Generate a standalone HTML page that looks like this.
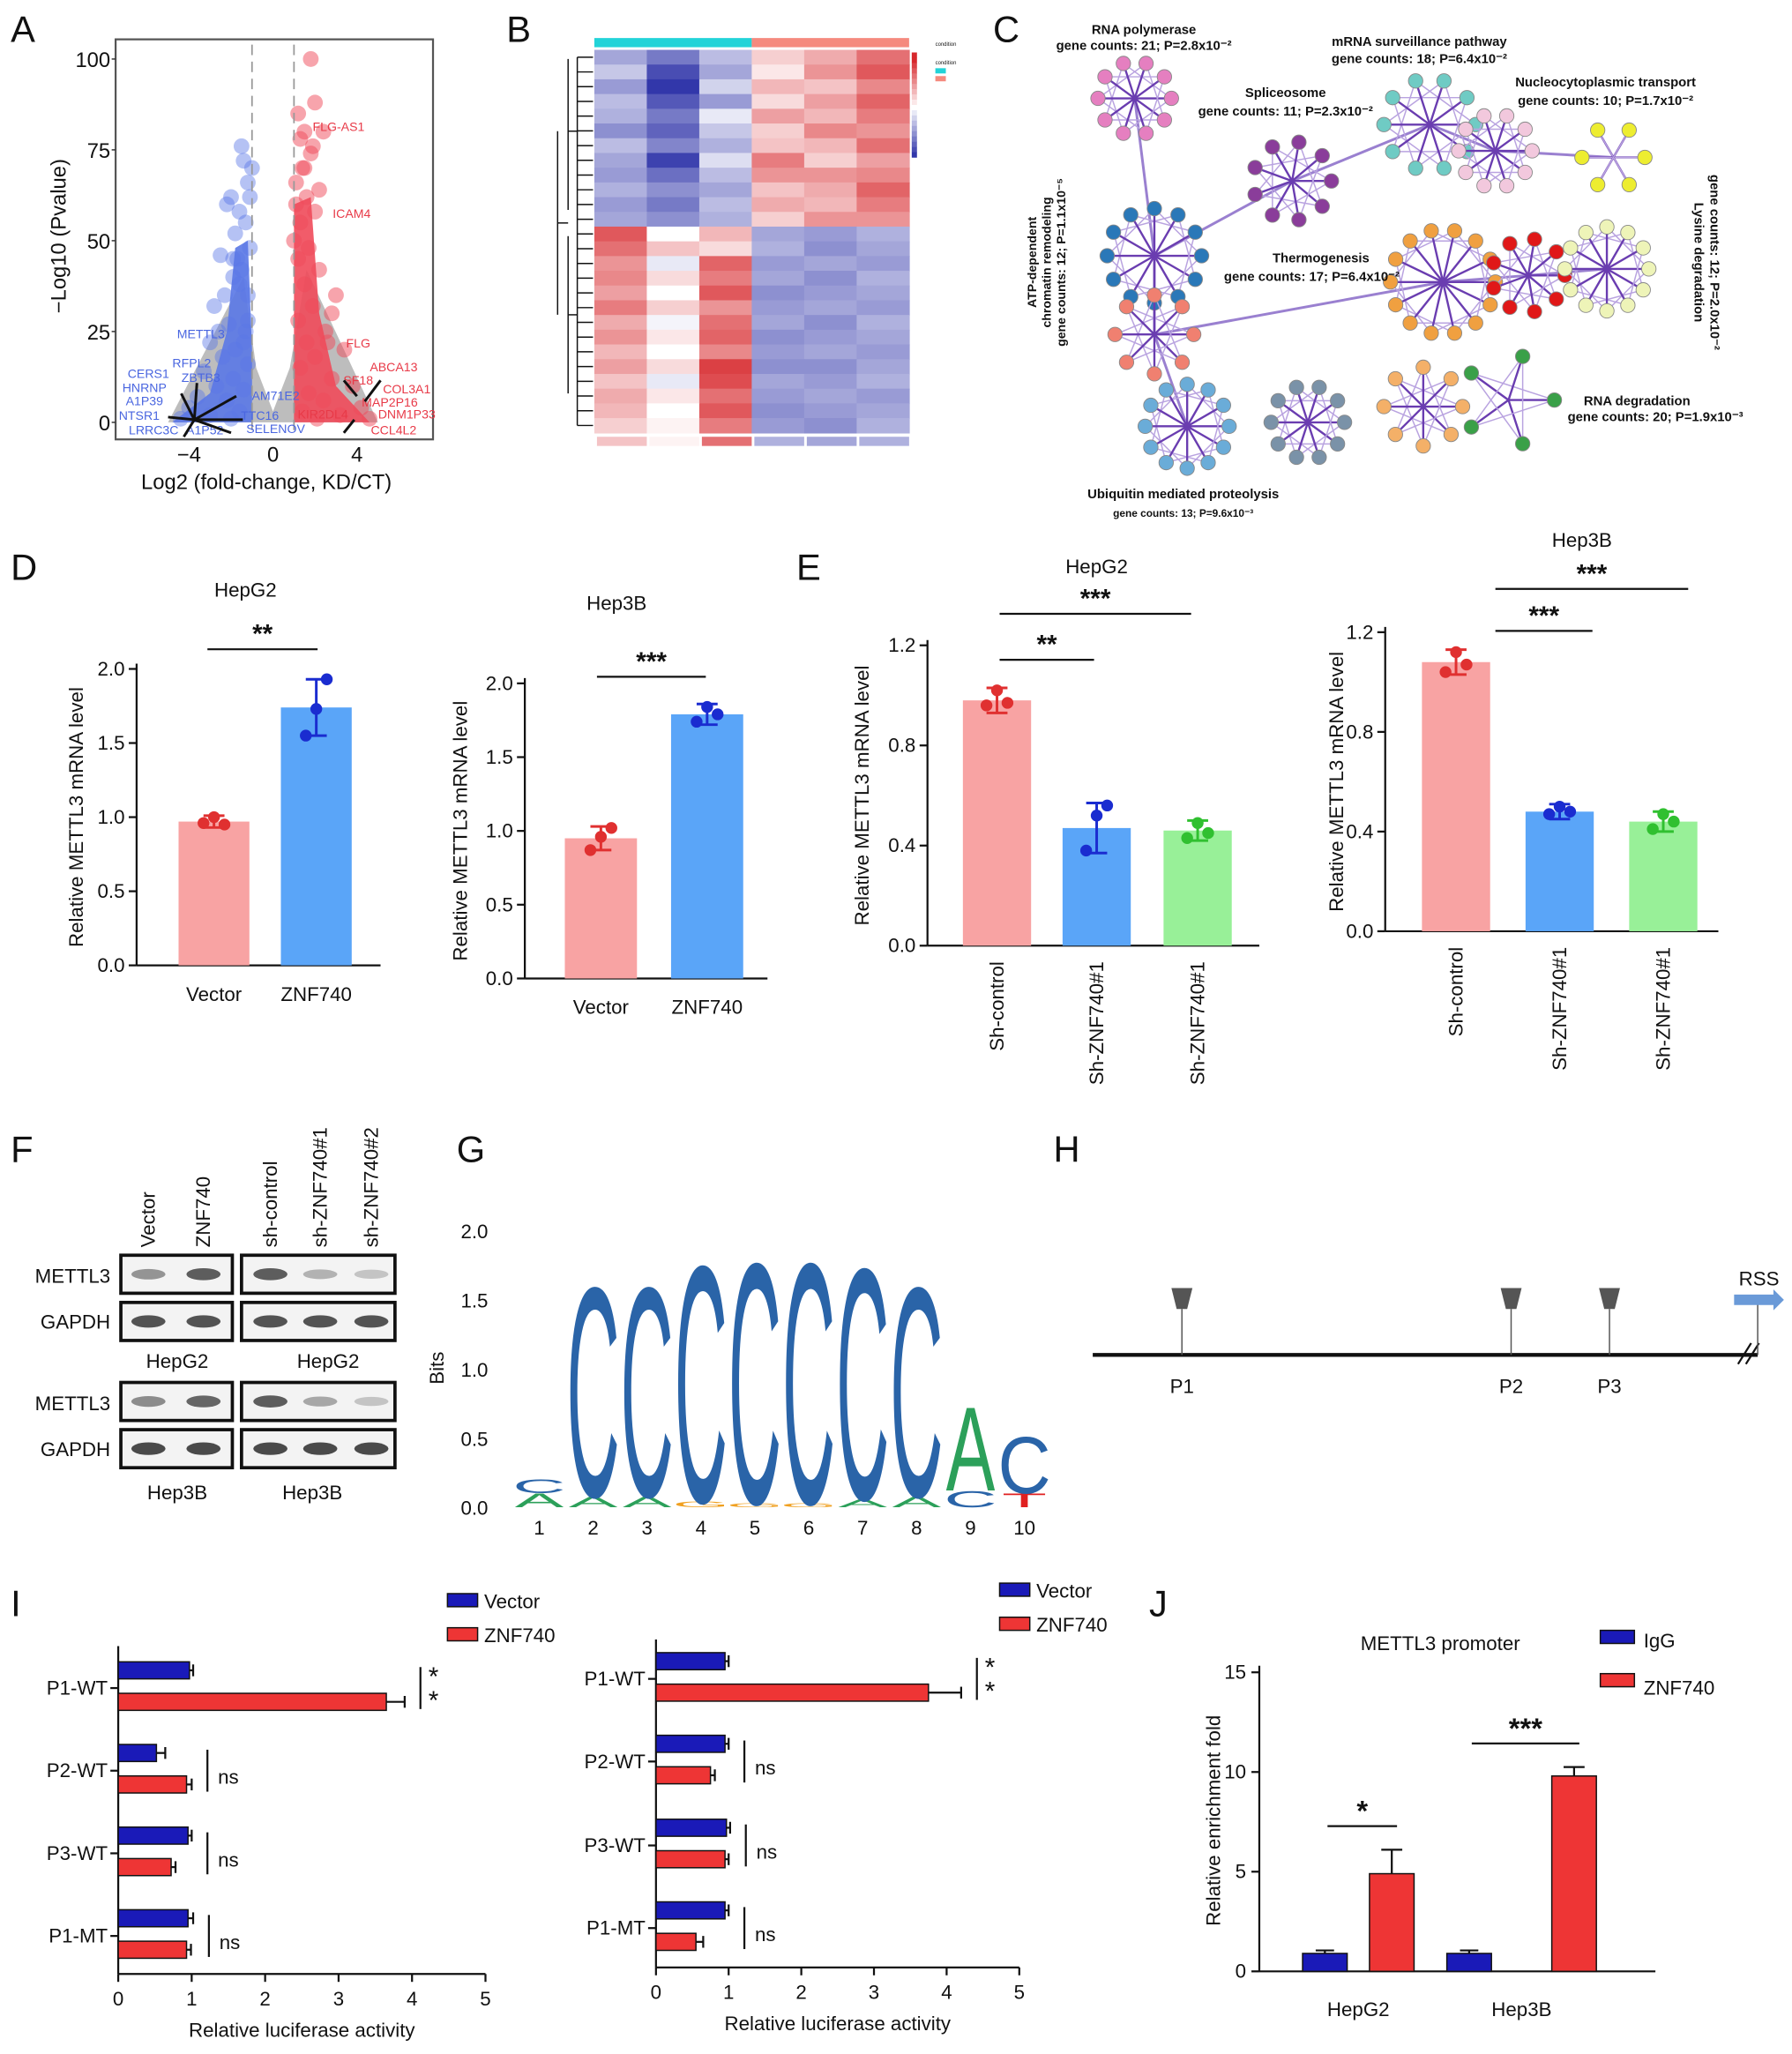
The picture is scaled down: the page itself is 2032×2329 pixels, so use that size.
<!DOCTYPE html>
<html><head><meta charset="utf-8"><style>
html,body{margin:0;padding:0;background:#fff}
svg{display:block;font-family:"Liberation Sans",Arial,sans-serif}
</style></head><body>
<svg id="fig" xmlns="http://www.w3.org/2000/svg" width="2032" height="2329" viewBox="0 0 1366 1566">
<rect width="1366" height="1566" fill="#fff"/>
<g font-size="28" fill="#111">
<text x="8" y="32">A</text><text x="386" y="32">B</text><text x="757" y="32">C</text>
<text x="8" y="442">D</text><text x="607" y="442">E</text>
<text x="8" y="886">F</text><text x="348" y="886">G</text><text x="803" y="886">H</text>
<text x="8" y="1232">I</text><text x="876" y="1232">J</text>
</g>
</svg>
<script>
const NS='http://www.w3.org/2000/svg';
const svg=document.getElementById('fig');
function mk(tag,attrs,parent){const e=document.createElementNS(NS,tag);for(const k in attrs)e.setAttribute(k,attrs[k]);(parent||svg).appendChild(e);return e;}
function tx(x,y,s,size,opt){opt=opt||{};const e=mk('text',{x:x,y:y,'font-size':size,'text-anchor':opt.anchor||'middle',fill:opt.fill||'#111','font-weight':opt.bold?'bold':'normal'},opt.parent);if(opt.rot!==undefined)e.setAttribute('transform','rotate('+opt.rot+' '+x+' '+y+')');e.textContent=s;return e;}
function ln(x1,y1,x2,y2,st,w,parent){return mk('line',{x1:x1,y1:y1,x2:x2,y2:y2,stroke:st||'#111','stroke-width':w||1.5},parent);}

/* ===== A volcano ===== */
const blueX=[-1.5,-1.4,-2.0,-1.2,-1.6,-2.2,-1.3,-1.8,-1.1,-2.5,-1.5,-1.9,-1.2,-2.8,-1.6,-2.1,-1.3,-3.0,-1.8,-2.4,-1.2,-3.3,-1.9,-2.7,-1.4,-3.6,-2.2,-4.0,-1.6,-3.0,-4.4,-2.0,-1.1,-1.0,-1.7,-2.3,-1.4,-2.6,-1.9,-1.2];
const blueY=[76,72,62,66,58,60,55,52,48,46,42,45,35,32,38,27,25,22,20,18,16,14,12,10,9,7,6,4,3,2,1,1,62,70,45,35,22,25,40,28];
const redX=[1.8,1.2,1.5,2.0,1.3,1.8,2.4,1.1,1.6,2.0,1.3,2.8,1.7,1.2,2.2,1.5,3.0,1.9,1.2,2.5,1.6,3.4,2.0,1.3,2.8,3.8,1.7,2.4,4.2,1.4,3.2,4.6,2.1,1.1,1.4,2.2,1.9,1.0,2.6,1.5];
const redY=[100,85,80,88,78,74,80,66,62,58,55,30,48,45,42,38,35,32,28,25,22,20,18,15,12,10,8,6,4,3,2,1,1,60,70,64,76,50,22,70];
const gA=mk('g',{});


const vx=v=>208+v*16, vy=v=>322-v*2.77;
mk('rect',{x:88,y:30,width:242,height:305,fill:'#fff',stroke:'#555','stroke-width':1.5},gA);
mk('path',{d:'M'+vx(-5)+' '+vy(0)+' L'+vx(-1.4)+' '+vy(40)+' L'+vx(-0.8)+' '+vy(15)+' L'+vx(0)+' '+vy(3)+' L'+vx(0.8)+' '+vy(15)+' L'+vx(1.6)+' '+vy(42)+' L'+vx(5)+' '+vy(0)+' Z',fill:'#bdbdbd'},gA);
mk('path',{d:'M'+vx(-4.8)+' '+vy(0)+' L'+vx(-3)+' '+vy(8)+' L'+vx(-2.2)+' '+vy(25)+' L'+vx(-1.8)+' '+vy(48)+' L'+vx(-1.2)+' '+vy(50)+' L'+vx(-1.0)+' '+vy(20)+' L'+vx(-1.0)+' '+vy(0)+' Z',fill:'#5a78e6',opacity:0.9},gA);
mk('path',{d:'M'+vx(1.0)+' '+vy(0)+' L'+vx(1.0)+' '+vy(60)+' L'+vx(1.8)+' '+vy(62)+' L'+vx(2.2)+' '+vy(30)+' L'+vx(3)+' '+vy(10)+' L'+vx(4.6)+' '+vy(0)+' Z',fill:'#f04a5a',opacity:0.9},gA);
for(let i=0;i<blueX.length;i++){const c=mk('circle',{cx:vx(blueX[i]),cy:vy(blueY[i]),r:6,fill:'#5a78e6','fill-opacity':0.45},gA);

}
for(let i=0;i<redX.length;i++){const c=mk('circle',{cx:vx(redX[i]),cy:vy(redY[i]),r:6,fill:'#f04a5a','fill-opacity':0.5},gA);

}
ln(vx(-1),34,vx(-1),330,'#999',1.2,gA).setAttribute('stroke-dasharray','8 5');
ln(vx(1),34,vx(1),330,'#999',1.2,gA).setAttribute('stroke-dasharray','8 5');
[0,25,50,75,100].forEach(t=>{ln(85,vy(t),88,vy(t),'#333',1,gA);tx(84,vy(t)+6,String(t),16,{anchor:'end',parent:gA});});
[-4,0,4].forEach(t=>{tx(vx(t),352,t<0?'\u2212'+(-t):String(t),16,{parent:gA});});
tx(203,373,'Log2 (fold-change, KD/CT)',16,{parent:gA});
tx(50,180,'\u2212Log10 (Pvalue)',16,{rot:-90,parent:gA});
[['METTL3',153,258],['RFPL2',146,280],['CERS1',113,288],['ZBTB3',153,291],['HNRNP',110,299],['A1P39',110,309],['NTSR1',106,320],['LRRC3C',117,331],['A1P52',156,331],['SELENOV',210,330],['TTC16',198,320],['AM71E2',210,305]].forEach(a=>tx(a[1],a[2],a[0],9.5,{fill:'#4a66e0',parent:gA}));
[['FLG-AS1',258,100],['ICAM4',268,166],['FLG',273,265],['ABCA13',300,283],['SF18',273,293],['COL3A1',310,300],['MAP2P16',297,310],['DNM1P33',310,319],['KIR2DL4',246,319],['CCL4L2',300,331]].forEach(a=>tx(a[1],a[2],a[0],9.5,{fill:'#e83a48',parent:gA}));
[[148,320,128,318],[148,320,138,300],[148,320,150,292],[148,320,180,302],[148,320,185,320],[148,320,176,330],[148,320,140,333],[262,290,272,302],[290,290,278,306],[270,320,262,330]].forEach(s=>ln(s[0],s[1],s[2],s[3],'#111',2,gA));

/* ===== B heatmap ===== */
const heatValues=[
[-0.8,-1.2,-0.6,0.4,0.7,1.2],[-0.5,-1.6,-0.8,0.2,0.9,1.4],[-0.9,-1.8,-0.4,0.6,0.5,1.0],[-0.6,-1.5,-0.9,0.3,0.8,1.3],
[-0.7,-1.2,-0.2,0.8,0.6,1.1],[-1.0,-1.4,-0.5,0.4,1.0,0.9],[-0.6,-1.1,-0.7,0.5,0.6,1.2],[-0.8,-1.7,-0.3,1.1,0.4,0.8],
[-0.9,-1.3,-0.6,0.9,0.9,1.0],[-0.7,-1.0,-0.8,0.5,0.7,1.3],[-0.9,-1.2,-0.6,0.7,0.6,1.1],[-0.8,-1.0,-0.7,0.4,0.9,0.9],
[1.4,0.0,0.6,-0.8,-0.9,-0.7],[1.2,0.5,0.3,-0.7,-1.0,-0.8],[0.9,-0.2,1.3,-0.9,-0.8,-0.9],[1.0,0.3,1.1,-0.8,-1.0,-0.7],
[0.8,0.0,1.4,-1.0,-0.9,-0.8],[1.1,0.4,0.9,-0.9,-0.8,-0.9],[0.7,-0.1,1.2,-0.8,-1.0,-0.7],[0.9,0.2,1.3,-1.0,-0.9,-0.8],
[0.6,0.0,1.0,-0.9,-0.8,-0.9],[0.8,0.3,1.6,-1.0,-1.0,-0.8],[0.5,-0.2,1.5,-0.8,-0.9,-0.7],[0.7,0.2,1.2,-0.9,-0.8,-0.9],
[0.6,0.0,1.4,-1.0,-0.9,-0.8],[0.4,0.1,1.1,-0.9,-1.0,-0.7]];
const heatSummary=[0.5,0.1,1.2,-0.7,-0.8,-0.7];
const gB=mk('g',{});


function heatColor(v){const t=Math.max(-2,Math.min(2,v))/1.8;const k=Math.min(1,Math.abs(t));let r,g,b;if(t<0){r=255-(255-50)*k;g=255-(255-55)*k;b=255-(255-170)*k;}else{r=255-(255-215)*k;g=255-(255-40)*k;b=255-(255-45)*k;}return 'rgb('+Math.round(r)+','+Math.round(g)+','+Math.round(b)+')';}
const hx0=453,cw=40,hy0=38,rh=292/heatValues.length;
mk('rect',{x:hx0,y:29,width:cw*3,height:7,fill:'#22d3d8'},gB);
mk('rect',{x:hx0+cw*3,y:29,width:cw*3,height:7,fill:'#f58a7e'},gB);
heatValues.forEach((row,i)=>row.forEach((v,j)=>{const c=mk('rect',{x:hx0+j*cw,y:hy0+i*rh,width:cw+0.5,height:rh+0.5,fill:heatColor(v)},gB);

}));
heatSummary.forEach((v,j)=>{mk('rect',{x:hx0+j*cw+2,y:333,width:cw-2,height:7,fill:heatColor(v)},gB);});
for(let i=0;i<heatValues.length;i++){const y=hy0+i*rh+rh/2;ln(440,y,452,y,'#111',1,gB);}
ln(440,hy0+rh/2,440,hy0+292-rh/2,'#111',1,gB);ln(433,45,433,160,'#111',1,gB);ln(433,180,433,300,'#111',1,gB);
ln(433,100,440,100,'#111',1,gB);ln(433,240,440,240,'#111',1,gB);ln(425,100,425,240,'#111',1,gB);ln(425,170,433,170,'#111',1,gB);
for(let k=0;k<20;k++){mk('rect',{x:695,y:40+k*4,width:4,height:4.2,fill:heatColor(2-k*0.2)},gB);}
mk('rect',{x:713,y:52,width:8,height:4,fill:'#22d3d8'},gB);mk('rect',{x:713,y:58,width:8,height:4,fill:'#f58a7e'},gB);
tx(713,35,'condition',4,{anchor:'start',parent:gB});tx(713,49,'condition',4,{anchor:'start',parent:gB});

/* ===== C network ===== */
const gC=mk('g',{});


const clusters=[
{cx:865,cy:75,r:28,n:10,col:'#e57fc0'},{cx:985,cy:138,r:30,n:9,col:'#8a3d9a'},{cx:1090,cy:95,r:35,n:10,col:'#6fcbc4'},
{cx:1140,cy:115,r:28,n:10,col:'#f2c8dd'},{cx:1230,cy:120,r:24,n:6,col:'#eded30'},{cx:880,cy:195,r:36,n:12,col:'#2a78b8'},
{cx:880,cy:255,r:30,n:8,col:'#f08070'},{cx:1100,cy:215,r:40,n:14,col:'#f0a040'},{cx:1165,cy:210,r:28,n:9,col:'#e01818'},
{cx:1225,cy:205,r:32,n:12,col:'#eef4b8'},{cx:905,cy:325,r:32,n:12,col:'#6aacd8'},{cx:997,cy:322,r:28,n:10,col:'#7a92a8'},
{cx:1085,cy:310,r:30,n:8,col:'#f4b068'},{cx:1150,cy:305,r:35,n:5,col:'#3aa048'}];
const bridgeLinks=[[0,5],[1,2],[2,3],[3,4],[5,6],[6,7],[7,8],[8,9],[6,10],[1,5]];
bridgeLinks.forEach(p=>{const a=clusters[p[0]],b=clusters[p[1]];ln(a.cx,a.cy,b.cx,b.cy,'#9a80d0',2,gC);});
clusters.forEach(c=>{const pts=[];for(let k=0;k<c.n;k++){const ang=k/c.n*Math.PI*2;pts.push([c.cx+Math.cos(ang)*c.r,c.cy+Math.sin(ang)*c.r]);}
pts.forEach((p,k)=>{ln(c.cx,c.cy,p[0],p[1],'#6a3db0',1.6,gC);const q=pts[(k+3)%c.n];ln(p[0],p[1],q[0],q[1],'#b9a3e0',1,gC);});
pts.forEach(p=>{const n=mk('circle',{cx:p[0],cy:p[1],r:5.5,fill:c.col,stroke:'#888','stroke-width':0.6},gC);

});});
[['RNA polymerase',872,26],['gene counts: 21; P=2.8x10\u207B\u00B2',872,38],['mRNA surveillance pathway',1082,35],['gene counts: 18; P=6.4x10\u207B\u00B2',1082,48],
['Spliceosome',980,74],['gene counts: 11; P=2.3x10\u207B\u00B2',980,88],['Nucleocytoplasmic transport',1224,66],['gene counts: 10; P=1.7x10\u207B\u00B2',1224,80],
['Thermogenesis',1007,200],['gene counts: 17; P=6.4x10\u207B\u00B2',1000,214],['RNA degradation',1248,309],['gene counts: 20; P=1.9x10\u207B\u00B3',1262,321],
['Ubiquitin mediated proteolysis',902,380]].forEach(a=>tx(a[1],a[2],a[0],10,{bold:true,parent:gC}));
tx(902,394,'gene counts: 13; P=9.6x10\u207B\u00B3',8,{bold:true,parent:gC});
tx(790,200,'ATP-dependent',9.5,{bold:true,rot:-90,parent:gC});tx(801,200,'chromatin remodeling',9.5,{bold:true,rot:-90,parent:gC});tx(812,200,'gene counts: 12; P=1.1x10\u207B\u2075',9.5,{bold:true,rot:-90,parent:gC});
tx(1292,200,'Lysine degradation',10,{bold:true,rot:90,parent:gC});tx(1304,200,'gene counts: 12; P=2.0x10\u207B\u00B2',10,{bold:true,rot:90,parent:gC});

/* ===== bar chart helper (vertical) ===== */
function vbar(cfg,names,vals,reps,errs,cols,dots){
const g=mk('g',{});


const y=v=>cfg.y0-(v/cfg.max)*(cfg.y0-cfg.ytop);
ln(cfg.x0,cfg.ytop-4,cfg.x0,cfg.y0,'#111',1.5,g);ln(cfg.x0,cfg.y0,cfg.xend,cfg.y0,'#111',1.5,g);
cfg.ticks.forEach(t=>{ln(cfg.x0-6,y(t),cfg.x0,y(t),'#111',1.5,g);tx(cfg.x0-9,y(t)+5,t.toFixed(1),15,{anchor:'end',parent:g});});
vals.forEach((v,i)=>{const cx=cfg.xs[i];const b=mk('rect',{x:cx-cfg.bw/2,y:y(v),width:cfg.bw,height:cfg.y0-y(v),fill:cols[i]},g);


ln(cx,y(v-errs[i]),cx,y(v+errs[i]),dots[i],2,g);ln(cx-8,y(v+errs[i]),cx+8,y(v+errs[i]),dots[i],2,g);ln(cx-8,y(v-errs[i]),cx+8,y(v-errs[i]),dots[i],2,g);
reps[i].forEach((r,k)=>{mk('circle',{cx:cx+(k-1)*8,cy:y(r),r:4.5,fill:dots[i]},g);});
if(cfg.rotLabels)tx(cx+5,cfg.y0+12,names[i],15,{anchor:'end',rot:-90,parent:g});else tx(cx,cfg.y0+27,names[i],15,{parent:g});});
tx(cfg.ylx,(cfg.y0+cfg.ytop)/2,'Relative METTL3 mRNA level',15,{rot:-90,parent:g});
tx(cfg.tx,cfg.ty,cfg.title,15,{parent:g});
cfg.sig.forEach(s=>{ln(s[0],s[2],s[1],s[2],'#111',1.5,g);tx((s[0]+s[1])/2,s[2]-5,s[3],20,{bold:true,parent:g});});
return g;}

const dNames=['Vector','ZNF740'];
const d1Vals=[0.97,1.74],d1Err=[0.04,0.19],d1Reps=[[0.96,1.0,0.95],[1.55,1.73,1.93]];
const d2Vals=[0.95,1.79],d2Err=[0.08,0.07],d2Reps=[[0.87,0.96,1.02],[1.74,1.84,1.79]];
vbar({name:'chart-d-hepg2',x0:104,xend:290,y0:736,ytop:510,max:2.0,ticks:[0,0.5,1.0,1.5,2.0],xs:[163,241],bw:54,ylx:63,tx:187,ty:455,title:'HepG2',sig:[[158,242,495,'**']]},dNames,d1Vals,d1Reps,d1Err,['#f8a3a3','#5aa5f8'],['#e03030','#1a2cd0']);
vbar({name:'chart-d-hep3b',x0:400,xend:585,y0:746,ytop:521,max:2.0,ticks:[0,0.5,1.0,1.5,2.0],xs:[458,539],bw:55,ylx:356,tx:470,ty:465,title:'Hep3B',sig:[[455,538,516,'***']]},dNames,d2Vals,d2Reps,d2Err,['#f8a3a3','#5aa5f8'],['#e03030','#1a2cd0']);

const eNames=['Sh-control','Sh-ZNF740#1','Sh-ZNF740#1'];
const e1Vals=[0.98,0.47,0.46],e1Err=[0.05,0.10,0.04],e1Reps=[[0.96,1.02,0.97],[0.38,0.52,0.56],[0.43,0.49,0.45]];
const e2Vals=[1.08,0.48,0.44],e2Err=[0.05,0.03,0.04],e2Reps=[[1.04,1.12,1.07],[0.47,0.50,0.48],[0.41,0.47,0.44]];
vbar({name:'chart-e-hepg2',x0:707,xend:960,y0:721,ytop:492,max:1.2,ticks:[0,0.4,0.8,1.2],xs:[760,836,913],bw:52,rotLabels:true,ylx:662,tx:836,ty:437,title:'HepG2',sig:[[762,908,468,'***'],[762,834,503,'**']]},eNames,e1Vals,e1Reps,e1Err,['#f8a3a3','#5aa5f8','#98f098'],['#e03030','#1a2cd0','#30c030']);
vbar({name:'chart-e-hep3b',x0:1056,xend:1310,y0:710,ytop:482,max:1.2,ticks:[0,0.4,0.8,1.2],xs:[1110,1189,1268],bw:52,rotLabels:true,ylx:1024,tx:1206,ty:417,title:'Hep3B',sig:[[1140,1287,449,'***'],[1140,1214,481,'***']]},eNames,e2Vals,e2Reps,e2Err,['#f8a3a3','#5aa5f8','#98f098'],['#e03030','#1a2cd0','#30c030']);

/* ===== F western blot ===== */
const gF=mk('g',{});


const laneX=[113,155,206,244,283];
const bandIntensity={m1:[0.5,0.8,0.8,0.35,0.25],g1:[0.85,0.85,0.85,0.85,0.85],m2:[0.55,0.75,0.8,0.4,0.25],g2:[0.9,0.9,0.9,0.9,0.9]};
[['m1',957],['g1',993],['m2',1054],['g2',1090]].forEach(r=>{
mk('rect',{x:92,y:r[1],width:85,height:29,fill:'#f3f3f3',stroke:'#111','stroke-width':2.5},gF);
mk('rect',{x:184,y:r[1],width:117,height:29,fill:'#f3f3f3',stroke:'#111','stroke-width':2.5},gF);
bandIntensity[r[0]].forEach((v,i)=>{mk('ellipse',{cx:laneX[i],cy:r[1]+14.5,rx:13,ry:3+v*2,fill:'#222','fill-opacity':v*0.9},gF);});});
tx(84,978,'METTL3',15,{anchor:'end',parent:gF});tx(84,1013,'GAPDH',15,{anchor:'end',parent:gF});
tx(84,1075,'METTL3',15,{anchor:'end',parent:gF});tx(84,1110,'GAPDH',15,{anchor:'end',parent:gF});
tx(135,1043,'HepG2',15,{parent:gF});tx(250,1043,'HepG2',15,{parent:gF});tx(135,1143,'Hep3B',15,{parent:gF});tx(238,1143,'Hep3B',15,{parent:gF});
['Vector','ZNF740','sh-control','sh-ZNF740#1','sh-ZNF740#2'].forEach((s,i)=>tx(laneX[i]+5,951,s,15,{anchor:'start',rot:-90,parent:gF}));

/* ===== G sequence logo ===== */
const logoPos=[1,2,3,4,5,6,7,8,9,10];
const logoMain=['C','C','C','C','C','C','C','C','A','C'];
const logoMainBits=[0.1,1.55,1.55,1.75,1.78,1.78,1.71,1.55,0.62,0.42];
const logoSub=['A','A','A','G','G','G','A','A','C','T'];
const logoSubBits=[0.1,0.08,0.08,0.04,0.03,0.03,0.06,0.08,0.12,0.1];
const gG=mk('g',{});


const ly=v=>1149-v*105.5, lx=p=>411+(p-1)*41.1;
[0,0.5,1.0,1.5,2.0].forEach(t=>tx(372,ly(t)+6,t.toFixed(1),15,{anchor:'end',parent:gG}));
tx(338,1043,'Bits',15,{rot:-90,parent:gG});
const letterCol={C:'#2a64a8',A:'#2ca05a',G:'#f0a020',T:'#e02020'};
function letter(ch,x,base,h,parent){const t=mk('text',{x:0,y:0,'font-size':100,fill:letterCol[ch],'text-anchor':'middle'},parent);t.textContent=ch;t.setAttribute('transform','translate('+x+' '+base+') scale(0.56 '+(h/71.6).toFixed(4)+')');return t;}
logoPos.forEach((p,i)=>{const x=lx(p);const hs=logoSubBits[i]*105.5,hm=logoMainBits[i]*105.5;
letter(logoSub[i],x,1149,hs,gG);
const L=letter(logoMain[i],x,1149-hs,hm,gG);


tx(x,1170,String(p),15,{parent:gG});});

/* ===== H promoter schematic ===== */
const gH=mk('g',{});


ln(833,1033,1340,1033,'#111',3,gH);
ln(1325,1040,1335,1024,'#111',1.5,gH);ln(1331,1040,1341,1024,'#111',1.5,gH);
const siteX=[901,1152,1227],siteLbl=['P1','P2','P3'];
siteX.forEach((x,i)=>{ln(x,998,x,1033,'#555',1,gH);const m=mk('path',{d:'M'+(x-8)+' 982 L'+(x+8)+' 982 L'+(x+4)+' 998 L'+(x-4)+' 998 Z',fill:'#555'},gH);


tx(x,1062,siteLbl[i],15,{parent:gH});});
ln(1340,992,1340,1033,'#555',1,gH);mk('path',{d:'M1322 987 L1352 987 L1352 983 L1360 991 L1352 999 L1352 995 L1322 995 Z',fill:'#6a9ad8'},gH);
tx(1341,980,'RSS',15,{parent:gH});

/* ===== I horizontal bar charts ===== */
const iCats=['P1-WT','P2-WT','P3-WT','P1-MT'];
const i1Vec=[0.97,0.52,0.95,0.95],i1Znf=[3.65,0.93,0.72,0.93],i1VecErr=[0.05,0.12,0.05,0.07],i1ZnfErr=[0.25,0.07,0.06,0.06];
const i2Vec=[0.95,0.95,0.97,0.95],i2Znf=[3.75,0.75,0.95,0.55],i2VecErr=[0.05,0.05,0.05,0.05],i2ZnfErr=[0.45,0.06,0.05,0.1];
const iSig=['**','ns','ns','ns'];
function hbar(cfg,vec,znf,ve,ze){
const g=mk('g',{});


const x=v=>cfg.x0+v*cfg.unit;
ln(cfg.x0,cfg.ytop,cfg.x0,cfg.y0,'#111',1.5,g);ln(cfg.x0,cfg.y0,x(5),cfg.y0,'#111',1.5,g);
[0,1,2,3,4,5].forEach(t=>{ln(x(t),cfg.y0,x(t),cfg.y0+6,'#111',1.5,g);tx(x(t),cfg.y0+24,String(t),15,{parent:g});});
tx(x(2.5),cfg.y0+48,'Relative luciferase activity',15,{parent:g});
iCats.forEach((c,i)=>{const cy=cfg.cy[i];ln(cfg.x0-6,cy,cfg.x0,cy,'#111',1.5,g);tx(cfg.x0-8,cy+5,c,15,{anchor:'end',parent:g});
const b1=mk('rect',{x:cfg.x0,y:cy-20,width:vec[i]*cfg.unit,height:13,fill:'#1a1ab8',stroke:'#111','stroke-width':1},g);


const b2=mk('rect',{x:cfg.x0,y:cy+4,width:znf[i]*cfg.unit,height:13,fill:'#ee3535',stroke:'#111','stroke-width':1},g);


ln(x(vec[i]),cy-13.5,x(vec[i]+ve[i]),cy-13.5,'#111',1.5,g);ln(x(vec[i]+ve[i]),cy-18,x(vec[i]+ve[i]),cy-9,'#111',1.5,g);
ln(x(znf[i]),cy+10.5,x(znf[i]+ze[i]),cy+10.5,'#111',1.5,g);ln(x(znf[i]+ze[i]),cy+6,x(znf[i]+ze[i]),cy+15,'#111',1.5,g);
const sx=x(Math.max(vec[i]+ve[i],znf[i]+ze[i]))+12;ln(sx,cy-16,sx,cy+16,'#111',1.5,g);
if(iSig[i]==='ns')tx(sx+8,cy+10,'ns',15,{anchor:'start',parent:g});else{tx(sx+10,cy-2,'*',20,{parent:g});tx(sx+10,cy+16,'*',20,{parent:g});}});
mk('rect',{x:cfg.lx,y:cfg.ly-13,width:23,height:10,fill:'#1a1ab8',stroke:'#111'},g);tx(cfg.lx+28,cfg.ly-2,'Vector',15,{anchor:'start',parent:g});
mk('rect',{x:cfg.lx,y:cfg.ly+13,width:23,height:10,fill:'#ee3535',stroke:'#111'},g);tx(cfg.lx+28,cfg.ly+24,'ZNF740',15,{anchor:'start',parent:g});
return g;}
hbar({name:'chart-i-left',x0:90,unit:56,y0:1505,ytop:1255,cy:[1287,1350,1413,1476],lx:341,ly:1228},i1Vec,i1Znf,i1VecErr,i1ZnfErr);
hbar({name:'chart-i-right',x0:500,unit:55.4,y0:1500,ytop:1250,cy:[1280,1343,1407,1470],lx:762,ly:1220},i2Vec,i2Znf,i2VecErr,i2ZnfErr);

/* ===== J ChIP ===== */
const jCats=['HepG2','Hep3B'];
const jIgG=[0.9,0.9],jZnf=[4.9,9.8],jIgGErr=[0.15,0.15],jZnfErr=[1.2,0.45];
const gJ=mk('g',{});


const jy=v=>1503-v*15.2;
ln(960,1270,960,1503,'#111',1.5,gJ);ln(960,1503,1262,1503,'#111',1.5,gJ);
[0,5,10,15].forEach(t=>{ln(954,jy(t),960,jy(t),'#111',1.5,gJ);tx(950,jy(t)+5,String(t),15,{anchor:'end',parent:gJ});});
tx(930,1388,'Relative enrichment fold',15,{rot:-90,parent:gJ});
tx(1098,1258,'METTL3 promoter',15,{parent:gJ});
const jIgX=[1010,1120],jZX=[1061,1200],jSig=['*','***'];
jCats.forEach((c,i)=>{
const a=mk('rect',{x:jIgX[i]-17,y:jy(jIgG[i]),width:34,height:jy(0)-jy(jIgG[i]),fill:'#1a1ab8',stroke:'#111'},gJ);


const b=mk('rect',{x:jZX[i]-17,y:jy(jZnf[i]),width:34,height:jy(0)-jy(jZnf[i]),fill:'#ee3535',stroke:'#111'},gJ);


ln(jIgX[i],jy(jIgG[i]),jIgX[i],jy(jIgG[i]+jIgGErr[i]),'#111',1.5,gJ);ln(jIgX[i]-7,jy(jIgG[i]+jIgGErr[i]),jIgX[i]+7,jy(jIgG[i]+jIgGErr[i]),'#111',1.5,gJ);
ln(jZX[i],jy(jZnf[i]),jZX[i],jy(jZnf[i]+jZnfErr[i]),'#111',1.5,gJ);ln(jZX[i]-8,jy(jZnf[i]+jZnfErr[i]),jZX[i]+8,jy(jZnf[i]+jZnfErr[i]),'#111',1.5,gJ);
const top=jy(jZnf[i]+jZnfErr[i])-18;ln(jIgX[i]+2,top,jZX[i]+4,top,'#111',1.5,gJ);tx((jIgX[i]+jZX[i])/2+3,top-4,jSig[i],22,{bold:true,parent:gJ});
tx((jIgX[i]+jZX[i])/2,1537,c,15,{parent:gJ});});
mk('rect',{x:1220,y:1243,width:26,height:10,fill:'#1a1ab8',stroke:'#111'},gJ);tx(1253,1256,'IgG',15,{anchor:'start',parent:gJ});
mk('rect',{x:1220,y:1276,width:26,height:10,fill:'#ee3535',stroke:'#111'},gJ);tx(1253,1292,'ZNF740',15,{anchor:'start',parent:gJ});
</script>
</body></html>
